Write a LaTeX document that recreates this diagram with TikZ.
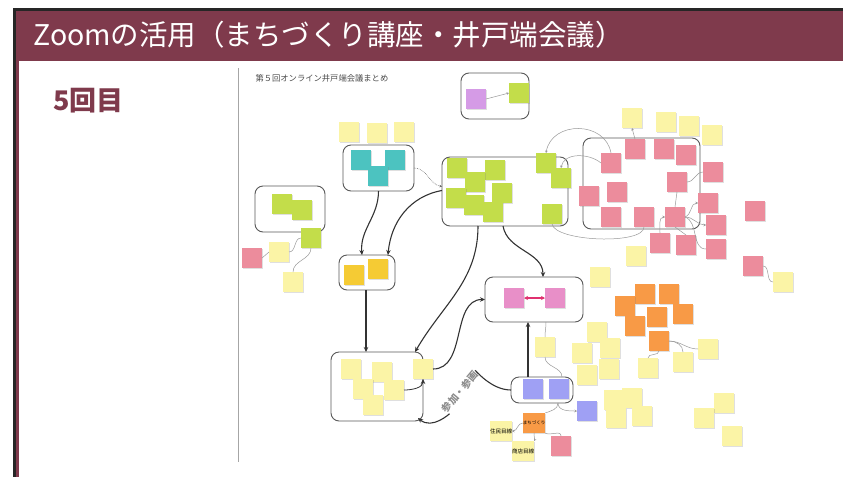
\documentclass[tikz,border=0pt]{standalone}
\usepackage{fontspec}
\newfontfamily\jpfont{Noto Sans CJK JP}
\usetikzlibrary{positioning,arrows.meta,shadows}

\definecolor{hdrmaroon}{HTML}{7F3A4C}
\definecolor{stickyylw}{HTML}{FBF4A6}
\definecolor{stickylime}{HTML}{C3DD4A}
\definecolor{stickypink}{HTML}{EC8C9C}
\definecolor{stickyteal}{HTML}{4CC3C0}
\definecolor{stickyorng}{HTML}{F89A46}
\definecolor{stickylav}{HTML}{9FA0F4}
\definecolor{stickymag}{HTML}{E88FC8}
\definecolor{stickygold}{HTML}{F5CB34}
\definecolor{stickyviol}{HTML}{D59BE6}
\definecolor{magarrow}{HTML}{E0306F}

\begin{document}
\begin{tikzpicture}[x=1pt,y=-1pt,
  note/.style={
    rectangle,
    minimum size=20pt,
    inner sep=0pt,
    outer sep=0pt,
    drop shadow={shadow xshift=0.5pt,shadow yshift=-1pt,opacity=0.25},
    font=\jpfont\fontsize{4.5}{5}\selectfont,
    align=center
  },
  ylwnote/.style={note,fill=stickyylw},
  limenote/.style={note,fill=stickylime},
  pinknote/.style={note,fill=stickypink},
  tealnote/.style={note,fill=stickyteal},
  orngnote/.style={note,fill=stickyorng},
  lavnote/.style={note,fill=stickylav},
  magnote/.style={note,fill=stickymag},
  goldnote/.style={note,fill=stickygold},
  violnote/.style={note,fill=stickyviol},
  group/.style={rectangle,rounded corners=8pt,draw=black!65,line width=0.9pt,fill=white,inner sep=0pt,outer sep=0pt},
  flow/.style={draw=black!80,line width=1.1pt,-{Stealth[length=5pt,width=4.5pt]}},
  link/.style={draw=black!40,line width=0.5pt},
  linkarrow/.style={link,-{Stealth[length=2.5pt,width=2.5pt]}},
  dotlink/.style={draw=black!60,densely dotted,line width=0.6pt,-{Stealth[length=2.5pt,width=2.5pt]}},
  maglink/.style={draw=magarrow,line width=1.2pt,{Stealth[length=4pt,width=4pt]}-{Stealth[length=4pt,width=4pt]}}]

  \useasboundingbox (0,0) rectangle (843,477);
  \fill[white] (0,0) rectangle (843,477);

  % slide frame and header
  \fill[black!85] (13,8) rectangle (843,11);
  \fill[black!85] (13,8) rectangle (16,477);
  \fill[hdrmaroon] (16,11) rectangle (843,61);
  \fill[hdrmaroon] (16,61) rectangle (19,477);
  \node[anchor=west,text=white,font=\jpfont\fontsize{28.5}{30}\selectfont] (hdrtitle) at (30,35) {Zoomの活用（まちづくり講座・井戸端会議）};
  \node[anchor=west,text=hdrmaroon,font=\jpfont\bfseries\fontsize{27}{28}\selectfont] (round) at (50,101) {5回目};

  % board
  \draw[black!35,line width=0.8pt] (238,68) -- (238,462);
  \node[anchor=west,text=black!70,font=\jpfont\fontsize{8.3}{9}\selectfont] (boardtitle) at (252,78) {第５回オンライン井戸端会議まとめ};

  % groups
  \node[group,minimum width=68pt,minimum height=46pt] (topgrp) at (495,96) {};
  \node[group,minimum width=71pt,minimum height=46pt] (tealgrp) at (378.5,168) {};
  \node[group,minimum width=126pt,minimum height=69pt] (greengrp) at (505,191.5) {};
  \node[group,minimum width=70pt,minimum height=46pt] (leftgrp) at (290,209) {};
  \node[group,minimum width=56pt,minimum height=35pt] (goldgrp) at (367,272.5) {};
  \node[group,minimum width=92pt,minimum height=69pt] (ylwgrp) at (377,386.5) {};
  \node[group,minimum width=98pt,minimum height=45pt] (maggrp) at (534,299.5) {};
  \node[group,minimum width=62pt,minimum height=26pt] (lavgrp) at (542,390) {};
  \node[group,minimum width=117pt,minimum height=91pt] (pinkgrp) at (641.5,183.5) {};

  % top group
  \node[violnote] (vio1) at (476,99) {};
  \node[limenote] (lim0) at (519,93) {};

  % teal group
  \node[ylwnote] (tq1) at (349,132) {};
  \node[ylwnote] (tq2) at (377,133) {};
  \node[ylwnote] (tq3) at (404,132) {};
  \node[tealnote] (tl1) at (361,160) {};
  \node[tealnote] (tl2) at (395,160) {};
  \node[tealnote] (tl3) at (378,176) {};

  % green group
  \node[limenote] (gr1) at (457,168) {};
  \node[limenote] (gr3) at (495,170) {};
  \node[limenote] (gr2) at (475,182) {};
  \node[limenote] (gr4) at (456,198) {};
  \node[limenote] (gr5) at (502,193) {};
  \node[limenote] (gr6) at (474,205) {};
  \node[limenote] (gr7) at (493,212) {};
  \node[limenote] (gr8) at (546,163) {};
  \node[limenote] (gr9) at (561,178) {};
  \node[limenote] (gr10) at (552,214) {};

  % left group
  \node[limenote] (lf1) at (282,204) {};
  \node[limenote] (lf2) at (302,210) {};
  \node[limenote] (lf3) at (311,238) {};
  \node[ylwnote] (lf4) at (279,252) {};
  \node[ylwnote] (lf5) at (293,282) {};
  \node[pinknote] (lf6) at (252,258) {};

  % gold group
  \node[goldnote] (gd1) at (354,275) {};
  \node[goldnote] (gd2) at (378,269) {};

  % yellow group
  \node[ylwnote] (yb1) at (351,369) {};
  \node[ylwnote] (yb2) at (382,372) {};
  \node[ylwnote] (yb3) at (363,389) {};
  \node[ylwnote] (yb4) at (394,390) {};
  \node[ylwnote] (yb5) at (373,405) {};
  \node[ylwnote] (yb6) at (423,369) {};

  % magenta and lavender groups
  \node[magnote] (mg1) at (514,298) {};
  \node[magnote] (mg2) at (555,298) {};
  \node[ylwnote] (yq) at (545,347) {};
  \node[lavnote] (lv1) at (533,389) {};
  \node[lavnote] (lv2) at (559,389) {};
  \node[lavnote] (lv3) at (587,411) {};
  \node[orngnote] (machi) at (534,423) {まちづくり};
  \node[pinknote] (machipk) at (561,446) {};
  \node[ylwnote,font=\jpfont\fontsize{5.5}{6}\selectfont] (jumin) at (501,431) {住民目線};
  \node[ylwnote,font=\jpfont\fontsize{5.5}{6}\selectfont] (shoten) at (523,451) {商店目線};

  % pink group
  \node[ylwnote] (ty1) at (632,118) {};
  \node[ylwnote] (ty2) at (666,122) {};
  \node[ylwnote] (ty3) at (689,126) {};
  \node[ylwnote] (ty4) at (712,135) {};
  \node[pinknote] (pk1) at (635,149) {};
  \node[pinknote] (pk2) at (664,149) {};
  \node[pinknote] (pk3) at (686,155) {};
  \node[pinknote] (pk4) at (611,163) {};
  \node[pinknote] (pk5) at (677,182) {};
  \node[pinknote] (pk6) at (589,196) {};
  \node[pinknote] (pk7) at (617,192) {};
  \node[pinknote] (pk8) at (611,217) {};
  \node[pinknote] (pk9) at (644,217) {};
  \node[pinknote] (pk10) at (675,217) {};
  \node[pinknote] (pk11) at (713,172) {};
  \node[pinknote] (pk12) at (708,203) {};
  \node[pinknote] (pk13) at (716,225) {};
  \node[pinknote] (pk14) at (716,249) {};
  \node[pinknote] (pk15) at (660,243) {};
  \node[pinknote] (pk16) at (686,245) {};
  \node[pinknote] (pk17) at (755,211) {};
  \node[pinknote] (pk18) at (753,266) {};
  \node[ylwnote] (ty5) at (783,282) {};
  \node[ylwnote] (yy1) at (636,256) {};
  \node[ylwnote] (yy2) at (600,277) {};

  % orange cluster
  \node[orngnote] (or1) at (645,294) {};
  \node[orngnote] (or2) at (669,294) {};
  \node[orngnote] (or3) at (625,306) {};
  \node[orngnote] (or4) at (683,314) {};
  \node[orngnote] (or5) at (657,317) {};
  \node[orngnote] (or6) at (635,326) {};
  \node[orngnote] (or7) at (659,341) {};

  % yellow cluster
  \node[ylwnote] (cy1) at (597,332) {};
  \node[ylwnote] (cy4) at (610,348) {};
  \node[ylwnote] (cy3) at (582,353) {};
  \node[ylwnote] (cy6) at (609,369) {};
  \node[ylwnote] (cy5) at (587,375) {};
  \node[ylwnote] (cy7) at (648,368) {};
  \node[ylwnote] (cy8) at (683,362) {};
  \node[ylwnote] (cy9) at (708,349) {};
  \node[ylwnote] (cy10) at (614,400) {};
  \node[ylwnote] (cy11) at (632,398) {};
  \node[ylwnote] (cy12) at (616,418) {};
  \node[ylwnote] (cy13) at (642,416) {};
  \node[ylwnote] (cy14) at (724,403) {};
  \node[ylwnote] (cy15) at (704,418) {};
  \node[ylwnote] (cy16) at (732,436) {};

  % main flows
  \draw[flow] (tealgrp.south) to[out=-90,in=95] ([xshift=-5pt]goldgrp.north);
  \draw[flow] ([yshift=1pt]greengrp.west) to[out=190,in=85] ([xshift=21pt]goldgrp.north);
  \draw[flow] ([xshift=-1pt]goldgrp.south) -- ([xshift=-1pt]goldgrp.south |- ylwgrp.north);
  \draw[flow] ([xshift=-27pt]greengrp.south) to[out=-90,in=60] ([xshift=38pt]ylwgrp.north);
  \draw[flow] ([xshift=-2pt]greengrp.south) to[out=-80,in=90] ([xshift=9pt]maggrp.north);
  \draw[flow] (yb6.east) to[out=0,in=180] (maggrp.west);
  \draw[flow] ([xshift=-14pt]lavgrp.north) -- ([xshift=-14pt]lavgrp.north |- maggrp.south);
  \draw[flow,line width=0.8pt] (yb4.east) to[out=0,in=-90] (yb6.south);
  \node[text=black!45,font=\jpfont\bfseries\fontsize{10}{11}\selectfont,rotate=50,inner sep=1pt] (sanka) at (460,392) {参加・参画};
  \draw[draw=black!80,line width=1.1pt] (lavgrp.west) to[out=180,in=40] (sanka);
  \draw[flow] (sanka) to[out=-130,in=-40] ([xshift=-5pt,yshift=3pt]ylwgrp.south east);
  \draw[dotlink] (tealgrp.east) to[out=0,in=170] ([yshift=5pt]greengrp.west);
  \draw[maglink] (mg1.east) -- (mg2.west);

  % thin links
  \draw[linkarrow] (vio1.east) -- (lim0.west);
  \draw[linkarrow] (pk4.north) to[out=100,in=80,looseness=1.3] (gr8.north);
  \draw[linkarrow] (pk4.west) to[out=140,in=80] (gr9.north);
  \draw[link] (gr10.south) to[out=-80,in=-90,looseness=0.5] (pk9.south);
  \draw[linkarrow] (pk1.north) -- (ty1.south);
  \draw[link] (pk10.north) -- (pk5.south);
  \draw[link] (pk5.east) to[out=0,in=180] (pk11.west);
  \draw[linkarrow] (pk10.east) to[out=20,in=180] (pk12.west);
  \draw[linkarrow] (pk10.east) to[out=0,in=180] (pk13.west);
  \draw[link] (pk10.east) to[out=-20,in=180] (pk14.west);
  \draw[linkarrow] (pk15.north) to[out=90,in=180] (pk10.west);
  \draw[link] (pk10.south) -- (pk16.north);
  \draw[link] (pk18.east) to[out=0,in=180] (ty5.west);
  \draw[link] (lf6.east) -- (lf4.west);
  \draw[link] (lf4.east) to[out=0,in=180] (lf3.west);
  \draw[link] (lf3.south) to[out=-90,in=90] (lf5.north);
  \draw[link] (or7.east) to[out=0,in=180] (cy9.west);
  \draw[link] (or7.east) to[out=0,in=90] (cy8.north);
  \draw[link] (or7.south) to[out=-90,in=90] (cy7.north);
  \draw[link] ([xshift=12pt]maggrp.south) to[out=-90,in=90] (yq.north);
  \draw[link] (yq.south) to[out=-90,in=90] ([xshift=20pt]lavgrp.north);
  \draw[link] ([xshift=16pt]lavgrp.south) to[out=-90,in=20] (machi.north east);
  \draw[linkarrow] ([xshift=16pt]lavgrp.south) to[out=-90,in=180] (lv3.west);
  \draw[linkarrow] (machi.west) to[out=180,in=0] (jumin.east);
  \draw[linkarrow] (machi.south) to[out=-110,in=60] (shoten.north east);
  \draw[link] (machi.south east) to[out=-30,in=90] (machipk.north);
\end{tikzpicture}
\end{document}
